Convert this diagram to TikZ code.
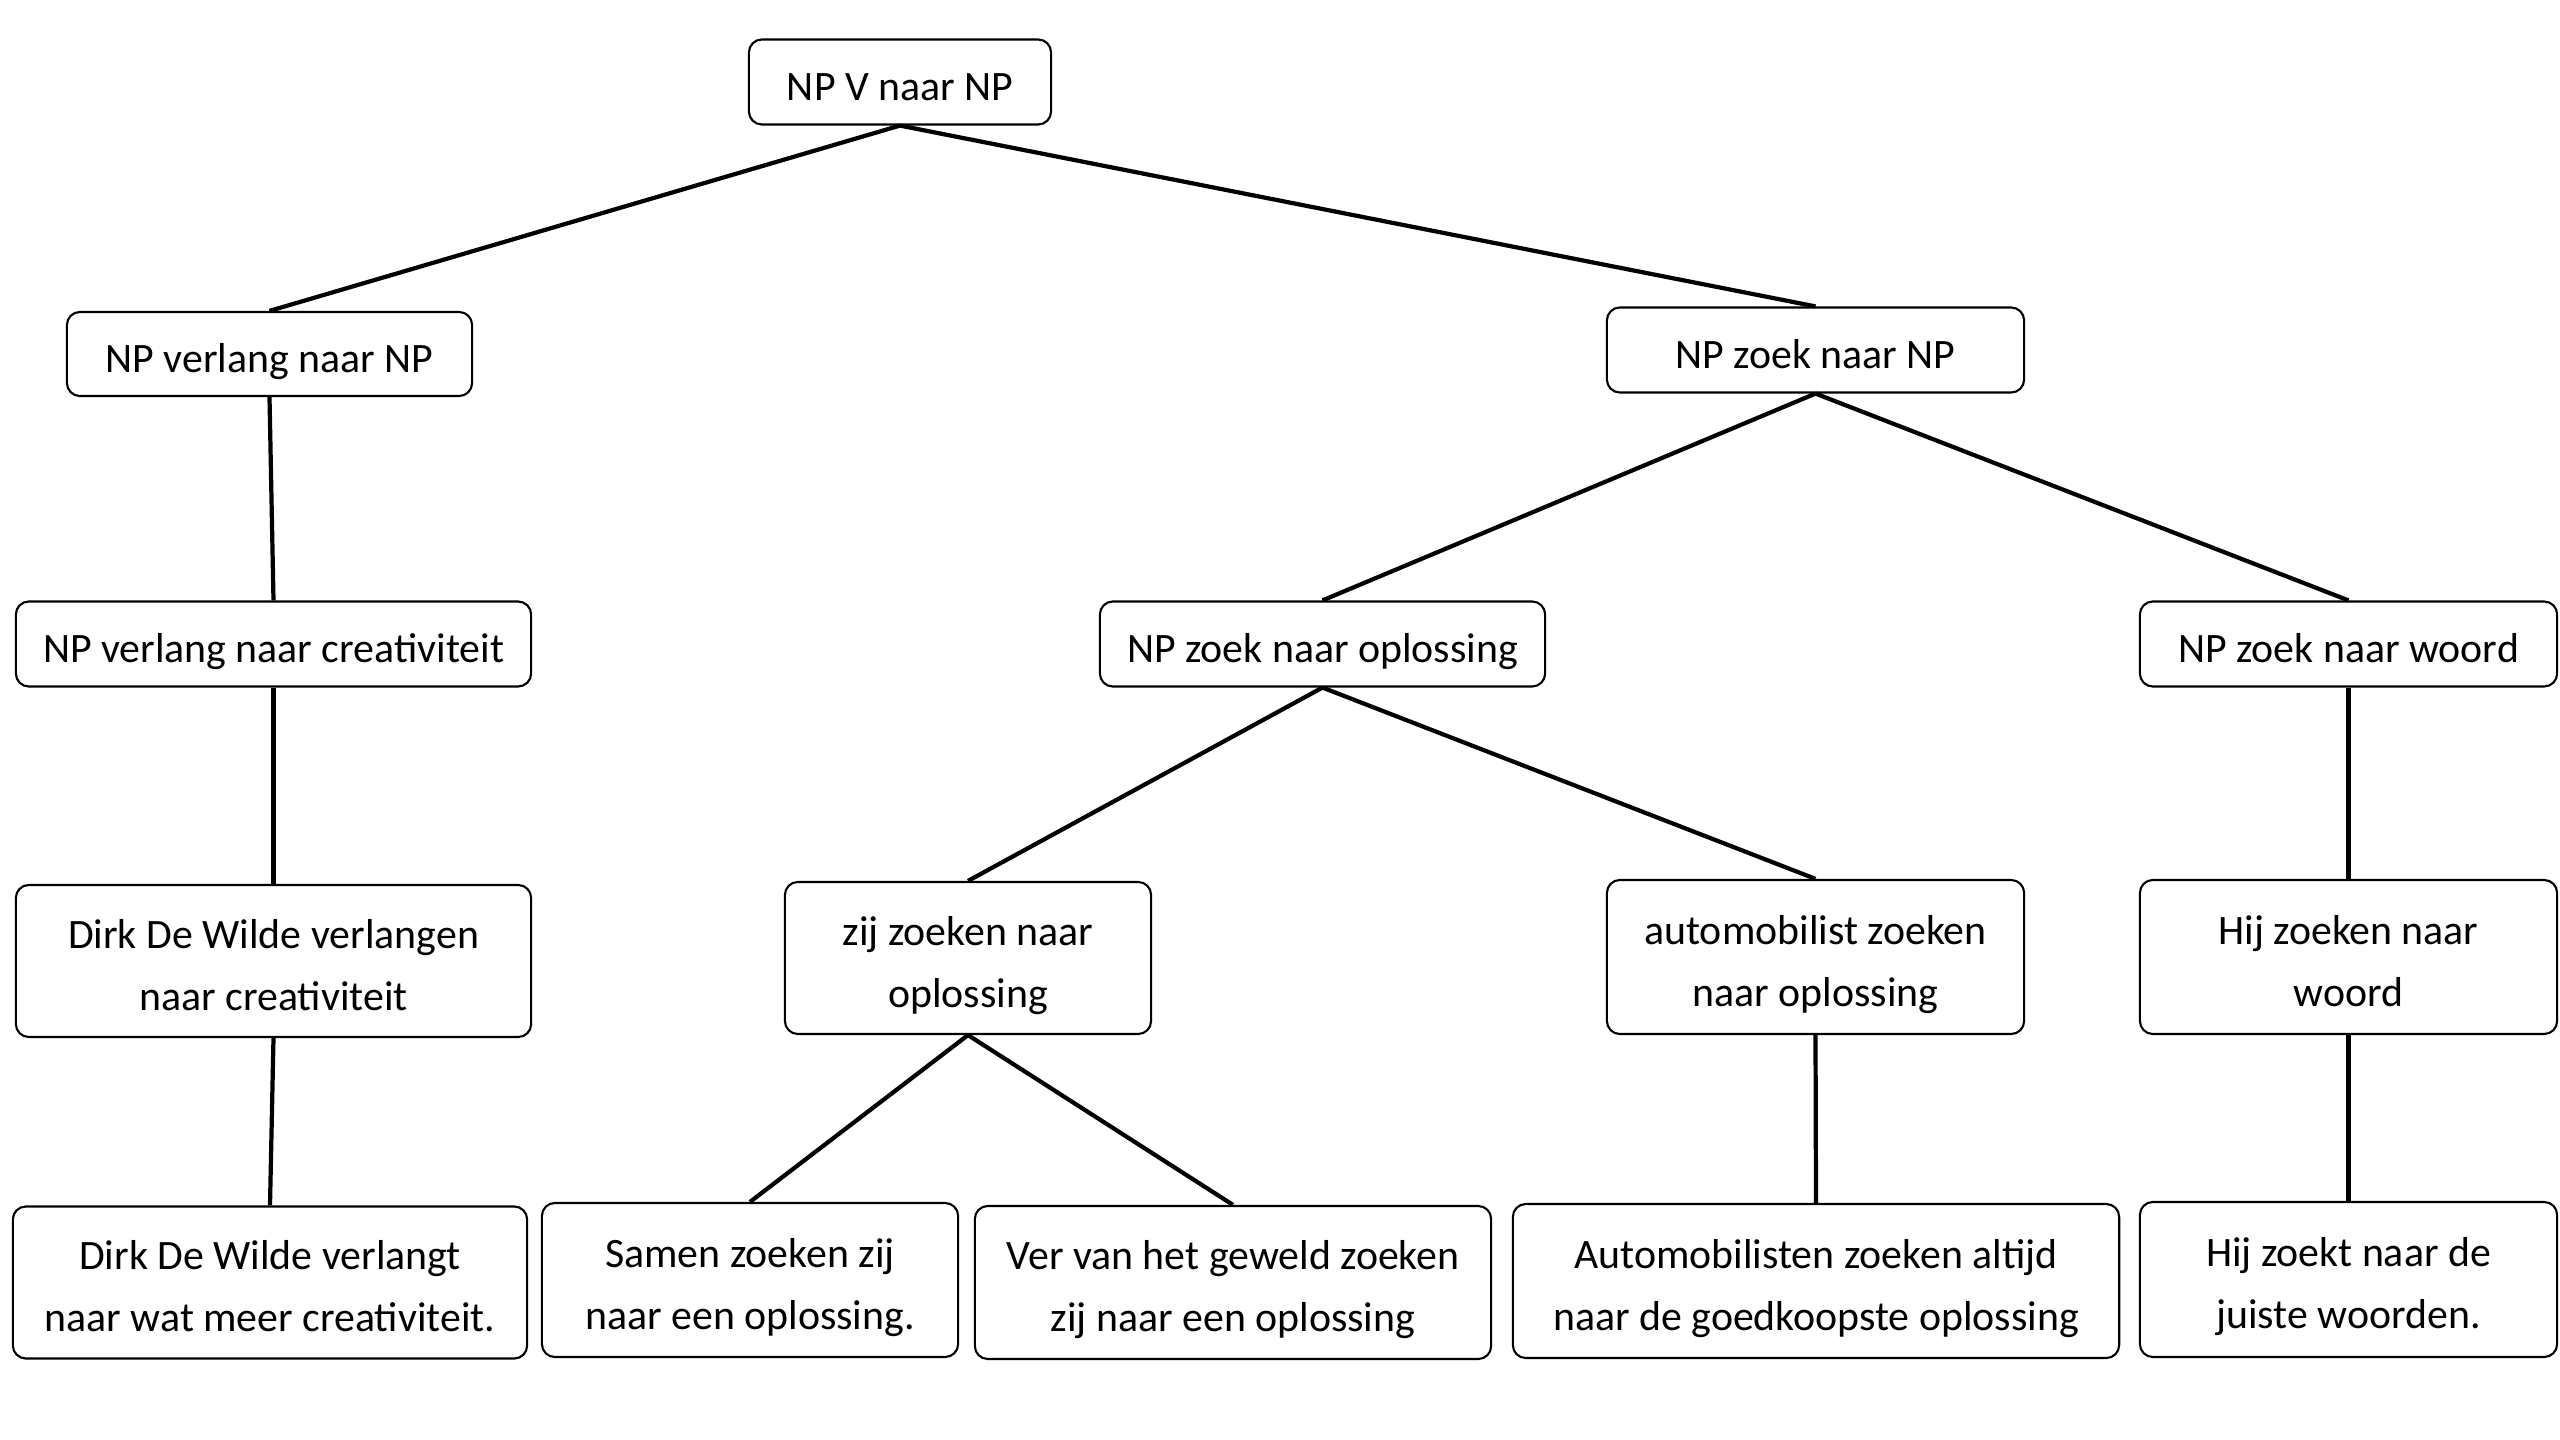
\documentclass[tikz,border=0pt]{standalone}
\usepackage{fontspec}
\setmainfont{Carlito}
\newcommand\mytop{\rule{0pt}{13.3pt}}
\newcommand\mybot{\rule[-3pt]{0pt}{3pt}}
\begin{document}
\begin{tikzpicture}[x=0.01cm,y=-0.01cm,
  box/.style={draw, rounded corners=0.13cm, line width=0.6pt, align=center,
    inner sep=0pt, font=\fontsize{11.9}{17.6}\selectfont},
  link/.style={line width=1.2pt}]
\fill[white] (0,0) rectangle (2560,1440);
\useasboundingbox (0,0) rectangle (2560,1440);
% level 0
\node[box, minimum width=3.02cm, minimum height=0.85cm] (root) at (900,82) {\mytop NP V naar NP\mybot};
% level 1
\node[box, minimum width=4.05cm, minimum height=0.84cm] (vnp) at (269.5,354) {\mytop NP verlang naar NP\mybot};
\node[box, minimum width=4.17cm, minimum height=0.85cm] (znp) at (1815.5,350) {\mytop NP zoek naar NP\mybot};
% level 2
\node[box, minimum width=5.15cm, minimum height=0.85cm] (vcr) at (273.5,644) {\mytop NP verlang naar creativiteit\mybot};
\node[box, minimum width=4.45cm, minimum height=0.85cm] (zopl) at (1322.5,644) {\mytop NP zoek naar oplossing\mybot};
\node[box, minimum width=4.17cm, minimum height=0.85cm] (zwd) at (2348.5,644) {\mytop NP zoek naar woord\mybot};
% level 3
\node[box, minimum width=5.15cm, minimum height=1.52cm] (dwv) at (273.5,961) {\mytop Dirk De Wilde verlangen\\naar creativiteit\mybot};
\node[box, minimum width=3.66cm, minimum height=1.52cm] (zij) at (968,958) {\mytop zij zoeken naar\\oplossing\mybot};
\node[box, minimum width=4.17cm, minimum height=1.54cm] (aut) at (1815.5,957) {\mytop automobilist zoeken\\naar oplossing\mybot};
\node[box, minimum width=4.17cm, minimum height=1.54cm] (hij) at (2348.5,957) {\mytop Hij zoeken naar\\woord\mybot};
% level 4
\node[box, minimum width=5.14cm, minimum height=1.52cm] (s1) at (270,1282.5) {\mytop Dirk De Wilde verlangt\\naar wat meer creativiteit.\mybot};
\node[box, minimum width=4.16cm, minimum height=1.54cm] (s2) at (750,1280) {\mytop Samen zoeken zij\\naar een oplossing.\mybot};
\node[box, minimum width=5.16cm, minimum height=1.53cm] (s3) at (1233,1282.5) {\mytop Ver van het geweld zoeken\\zij naar een oplossing\mybot};
\node[box, minimum width=6.06cm, minimum height=1.54cm] (s4) at (1816,1281) {\mytop Automobilisten zoeken altijd\\naar de goedkoopste oplossing\mybot};
\node[box, minimum width=4.17cm, minimum height=1.55cm] (s5) at (2348.5,1279.5) {\mytop Hij zoekt naar de\\juiste woorden.\mybot};
% connectors
\draw[link] (root.south) -- (vnp.north);
\draw[link] (root.south) -- (znp.north);
\draw[link] (vnp.south) -- (vcr.north);
\draw[link] (vcr.south) -- (dwv.north);
\draw[link] (dwv.south) -- (s1.north);
\draw[link] (znp.south) -- (zopl.north);
\draw[link] (znp.south) -- (zwd.north);
\draw[link] (zopl.south) -- (zij.north);
\draw[link] (zopl.south) -- (aut.north);
\draw[link] (zij.south) -- (s2.north);
\draw[link] (zij.south) -- (s3.north);
\draw[link] (aut.south) -- (s4.north);
\draw[link] (zwd.south) -- (hij.north);
\draw[link] (hij.south) -- (s5.north);
\end{tikzpicture}
\end{document}
